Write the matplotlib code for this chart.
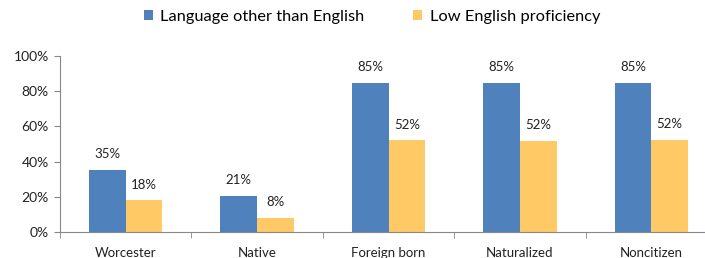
import numpy as np
import matplotlib.pyplot as plt
from matplotlib.ticker import FixedLocator, PercentFormatter

categories = ['Worcester', 'Native', 'Foreign born', 'Naturalized', 'Noncitizen']
other_lang = [35.2, 20.6, 84.8, 84.7, 84.8]
low_prof = [18.0, 8.2, 52.1, 51.6, 52.4]
series_names = ['Language other than English', 'Low English proficiency']

plt.rcParams['font.family'] = ['Lato', 'DejaVu Sans']

fig = plt.figure(figsize=(7.05, 2.58), dpi=100)
ax = fig.add_axes([60/705, 26/258, 657/705, 176/258])

x = np.arange(len(categories))
w = 0.28
b1 = ax.bar(x - w/2, other_lang, w, color='#4F81BD', label=series_names[0])
b2 = ax.bar(x + w/2, low_prof, w, color='#FFCA66', label=series_names[1])

for bars, vals in [(b1, other_lang), (b2, low_prof)]:
    for r, v in zip(bars, vals):
        ax.annotate(f'{v:.0f}%', (r.get_x() + r.get_width()/2, v),
                    xytext=(0, 7), textcoords='offset points',
                    ha='center', va='bottom', fontsize=9.5, color='#222222')

ax.set_xlim(-0.5, len(categories) - 0.5)
ax.set_ylim(0, 100)
ax.set_yticks(range(0, 101, 20))
ax.yaxis.set_major_formatter(PercentFormatter(decimals=0))
ax.set_xticks(x)
ax.set_xticklabels(categories)
ax.xaxis.set_minor_locator(FixedLocator(np.arange(-0.5, len(categories), 1)))
ax.tick_params(axis='x', which='major', length=0, pad=11, labelsize=9.5, colors='#222222')
ax.tick_params(axis='x', which='minor', length=4, color='#888888')
ax.tick_params(axis='y', length=4, color='#888888', labelsize=10, labelcolor='#222222', pad=4)

for s in ['top', 'right']:
    ax.spines[s].set_visible(False)
for s in ['left', 'bottom']:
    ax.spines[s].set_color('#888888')

ax.legend(loc='upper center', bbox_to_anchor=(372/705, 1.02), bbox_transform=fig.transFigure,
          ncol=2, frameon=False, fontsize=11.8, handlelength=0.55, handleheight=0.55,
          handletextpad=0.45, columnspacing=3.0)

fig.savefig('out.png', dpi=100)
